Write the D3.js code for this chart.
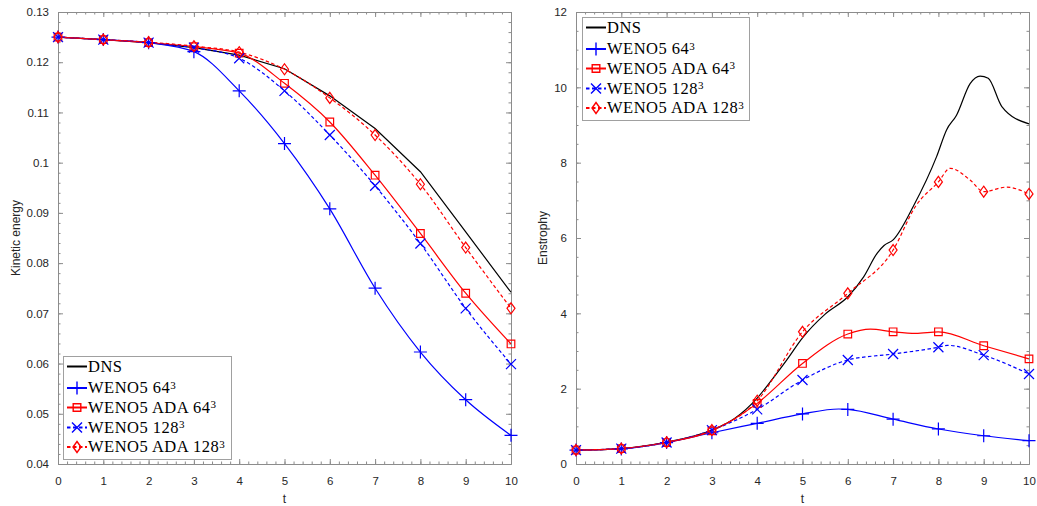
<!DOCTYPE html>
<html>
<head>
<meta charset="utf-8">
<script src="https://cdn.jsdelivr.net/npm/d3@7"></script>
<style>
  body { margin: 0; background: #fff; }
  svg { display: block; }
</style>
</head>
<body>
<svg width="1037" height="506"></svg>
<script>
// time stations (markers sit on these)
var t = [0, 1, 2, 3, 4, 5, 6, 7, 8, 9, 10];

// kinetic energy, one value per t
var keDNS     = [0.1250, 0.1245, 0.1239, 0.1229, 0.1214, 0.1187, 0.1133, 0.1068, 0.0982, 0.0862, 0.0742];
var keWeno64  = [0.1250, 0.1245, 0.1239, 0.1221, 0.1143, 0.1038, 0.0908, 0.0750, 0.0623, 0.0528, 0.0457];
var keAda64   = [0.1250, 0.1245, 0.1239, 0.1231, 0.1218, 0.1158, 0.1081, 0.0975, 0.0859, 0.0740, 0.0639];
var keWeno128 = [0.1250, 0.1245, 0.1239, 0.1229, 0.1208, 0.1143, 0.1055, 0.0954, 0.0839, 0.0710, 0.0599];
var keAda128  = [0.1250, 0.1245, 0.1240, 0.1232, 0.1220, 0.1186, 0.1129, 0.1055, 0.0957, 0.0831, 0.0710];

// enstrophy, [t, value] (a few extra stations between markers)
var ensDNS = [[0, 0.37], [1, 0.41], [2, 0.58], [3, 0.90], [3.5, 1.21], [4, 1.75], [4.3, 2.2], [4.65, 2.76],
  [5, 3.35], [5.5, 3.98], [6, 4.44], [6.35, 4.97], [6.65, 5.6], [6.8, 5.8], [7, 5.95], [7.45, 6.85],
  [7.96, 8.16], [8.18, 8.87], [8.4, 9.26], [8.7, 10.1], [8.92, 10.3], [9.1, 10.24], [9.4, 9.49], [10, 9.03]];
var ensWeno64 = [[0, 0.37], [1, 0.40], [2, 0.57], [3, 0.83], [4, 1.08], [5, 1.33], [5.8, 1.46], [6, 1.45],
  [7, 1.19], [8, 0.93], [9, 0.75], [10, 0.62]];
var ensAda64 = [[0, 0.37], [1, 0.41], [2, 0.57], [3, 0.88], [4, 1.61], [5, 2.67], [6, 3.45], [6.5, 3.58],
  [7, 3.51], [7.5, 3.47], [8, 3.51], [9, 3.14], [10, 2.79]];
var ensWeno128 = [[0, 0.37], [1, 0.41], [2, 0.57], [3, 0.90], [4, 1.45], [5, 2.23], [6, 2.76], [7, 2.92],
  [8, 3.10], [8.2, 3.15], [9, 2.89], [10, 2.39]];
var ensAda128 = [[0, 0.37], [1, 0.41], [2, 0.58], [3, 0.90], [4, 1.68], [5, 3.51], [6, 4.53], [7, 5.68],
  [7.5, 6.85], [8, 7.49], [8.26, 7.85], [8.7, 7.54], [9, 7.23], [9.5, 7.35], [10, 7.17]];

var keTicks = [0.04, 0.05, 0.06, 0.07, 0.08, 0.09, 0.1, 0.11, 0.12, 0.13];
var ensTicks = [0, 2, 4, 6, 8, 10, 12];

var svg = d3.select("svg");
var axisCol = "#8c8c8c", textCol = "#262626";
var sansFont = "'Liberation Sans', Arial, Helvetica, sans-serif";
var serifFont = "'Liberation Serif', 'Times New Roman', serif";

var markers = {
  none: null,
  plus: "M-6.5,0H6.5M0,-6.5V6.5",
  cross: "M-5,-5L5,5M-5,5L5,-5",
  square: "M-3.8,-3.8H3.8V3.8H-3.8Z",
  diamond: "M0,-5.5L4,0L0,5.5L-4,0Z"
};

function seriesDefs(dns, w64, a64, w128, a128) {
  return [
    {name: "DNS", sup: "", color: "#000", dash: null, marker: "none", data: dns},
    {name: "WENO5 64", sup: "3", color: "#0000ff", dash: null, marker: "plus", data: w64},
    {name: "WENO5 ADA 64", sup: "3", color: "#ff0000", dash: null, marker: "square", data: a64},
    {name: "WENO5 128", sup: "3", color: "#0000ff", dash: "3.5,2.5", marker: "cross", data: w128},
    {name: "WENO5 ADA 128", sup: "3", color: "#ff0000", dash: "3.5,2.5", marker: "diamond", data: a128}
  ];
}

function pairs(vals) { return t.map(function(tt, i) { return [tt, vals[i]]; }); }

function styleAxis(sel) {
  sel.select(".domain").attr("stroke", axisCol).attr("stroke-width", 1);
  sel.selectAll(".tick line").attr("stroke", axisCol);
  sel.selectAll(".tick text").attr("fill", textCol)
    .style("font-family", sansFont).style("font-size", "11.5px");
}

function drawPanel(p) {
  var g = svg.append("g");
  var x = d3.scaleLinear().domain([0, 10]).range([p.x0, p.x1]);
  var y = d3.scaleLinear().domain(p.yDom).range([p.y1, p.y0]);
  var xMinor = d3.range(0, 10.0001, 0.2).map(function(v) { return +v.toFixed(2); });
  var yMinor = d3.range(p.yDom[0], p.yDom[1] + 1e-9, p.yMinorStep).map(function(v) { return +v.toFixed(4); });

  // minor ticks on all four sides
  g.append("g").attr("transform", "translate(0," + p.y1 + ")")
    .call(d3.axisBottom(x).tickValues(xMinor).tickSize(-2.5).tickSizeOuter(0).tickFormat("")).call(styleAxis);
  g.append("g").attr("transform", "translate(0," + p.y0 + ")")
    .call(d3.axisTop(x).tickValues(xMinor).tickSize(-2.5).tickSizeOuter(0).tickFormat("")).call(styleAxis);
  g.append("g").attr("transform", "translate(" + p.x0 + ",0)")
    .call(d3.axisLeft(y).tickValues(yMinor).tickSize(-2.5).tickSizeOuter(0).tickFormat("")).call(styleAxis);
  g.append("g").attr("transform", "translate(" + p.x1 + ",0)")
    .call(d3.axisRight(y).tickValues(yMinor).tickSize(-2.5).tickSizeOuter(0).tickFormat("")).call(styleAxis);

  // major ticks
  g.append("g").attr("transform", "translate(0," + p.y1 + ")")
    .call(d3.axisBottom(x).tickValues(t).tickSize(-5).tickSizeOuter(0).tickPadding(13).tickFormat(d3.format("d"))).call(styleAxis);
  g.append("g").attr("transform", "translate(0," + p.y0 + ")")
    .call(d3.axisTop(x).tickValues(t).tickSize(-5).tickSizeOuter(0).tickFormat("")).call(styleAxis);
  g.append("g").attr("transform", "translate(" + p.x0 + ",0)")
    .call(d3.axisLeft(y).tickValues(p.yTicks).tickSize(-5).tickSizeOuter(0).tickPadding(p.yPad).tickFormat(d3.format("~g"))).call(styleAxis);
  g.append("g").attr("transform", "translate(" + p.x1 + ",0)")
    .call(d3.axisRight(y).tickValues(p.yTicks).tickSize(-5).tickSizeOuter(0).tickFormat("")).call(styleAxis);

  // axis labels
  g.append("text").attr("x", (p.x0 + p.x1) / 2).attr("y", 503)
    .attr("text-anchor", "middle").attr("fill", textCol)
    .style("font-family", sansFont).style("font-size", "12px").text("t");
  g.append("text").attr("transform", "translate(" + p.labelX + "," + ((p.y0 + p.y1) / 2) + ") rotate(-90)")
    .attr("text-anchor", "middle").attr("fill", textCol)
    .style("font-family", sansFont).style("font-size", "12px").text(p.yLabel);

  // curves
  p.series.forEach(function(s, i) {
    var line = d3.line().x(function(d) { return x(d[0]); }).y(function(d) { return y(d[1]); })
      .curve(p.linearDNS && i === 0 ? d3.curveLinear : d3.curveMonotoneX);
    g.append("path").datum(s.data).attr("d", line)
      .attr("fill", "none").attr("stroke", s.color).attr("stroke-width", 1.2)
      .attr("stroke-dasharray", s.dash);
  });
  p.series.forEach(function(s) {
    if (!markers[s.marker]) return;
    g.selectAll(null).data(s.data.filter(function(d) { return Number.isInteger(d[0]); }))
      .enter().append("path")
      .attr("transform", function(d) { return "translate(" + x(d[0]) + "," + y(d[1]) + ")"; })
      .attr("d", markers[s.marker]).attr("fill", "none")
      .attr("stroke", s.color).attr("stroke-width", 1.2);
  });

  // legend
  var lg = g.append("g").attr("transform", "translate(" + p.legX + "," + p.legY + ")");
  lg.append("rect").attr("x", 0.5).attr("y", 0.5).attr("width", p.legW).attr("height", 103)
    .attr("fill", "#fff").attr("stroke", "#a0a0a0").attr("stroke-width", 1);
  var rowY = [10.5, 32, 51.5, 71.5, 91];
  p.series.forEach(function(s, i) {
    var r = lg.append("g").attr("transform", "translate(0," + rowY[i] + ")");
    r.append("line").attr("x1", 4).attr("x2", 24).attr("y1", 0).attr("y2", 0)
      .attr("stroke", s.color).attr("stroke-width", 2).attr("stroke-dasharray", s.dash ? "3.5,2.5" : null);
    if (markers[s.marker]) {
      r.append("path").attr("transform", "translate(14,0)").attr("d", markers[s.marker])
        .attr("fill", "none").attr("stroke", s.color).attr("stroke-width", 1.4);
    }
    var tx = r.append("text").attr("x", 25).attr("y", 0).attr("dy", "0.33em").attr("fill", "#000")
      .style("font-family", serifFont).style("font-size", "16.5px").style("letter-spacing", "0.5px");
    tx.append("tspan").text(s.name);
    if (s.sup) {
      tx.append("tspan").attr("dy", "-0.45em").style("font-size", "11px").text(s.sup);
    }
  });
}

drawPanel({
  x0: 58, x1: 511, y0: 12, y1: 464,
  yDom: [0.04, 0.13], yTicks: keTicks, yMinorStep: 0.002, yPad: 9,
  yLabel: "Kinetic energy", labelX: 20, linearDNS: true,
  legX: 63, legY: 356, legW: 168,
  series: seriesDefs(pairs(keDNS), pairs(keWeno64), pairs(keAda64), pairs(keWeno128), pairs(keAda128))
});

drawPanel({
  x0: 576, x1: 1029, y0: 12, y1: 464,
  yDom: [0, 12], yTicks: ensTicks, yMinorStep: 0.5, yPad: 9,
  yLabel: "Enstrophy", labelX: 547, linearDNS: false,
  legX: 582, legY: 17, legW: 167,
  series: seriesDefs(ensDNS, ensWeno64, ensAda64, ensWeno128, ensAda128)
});
</script>
</body>
</html>
